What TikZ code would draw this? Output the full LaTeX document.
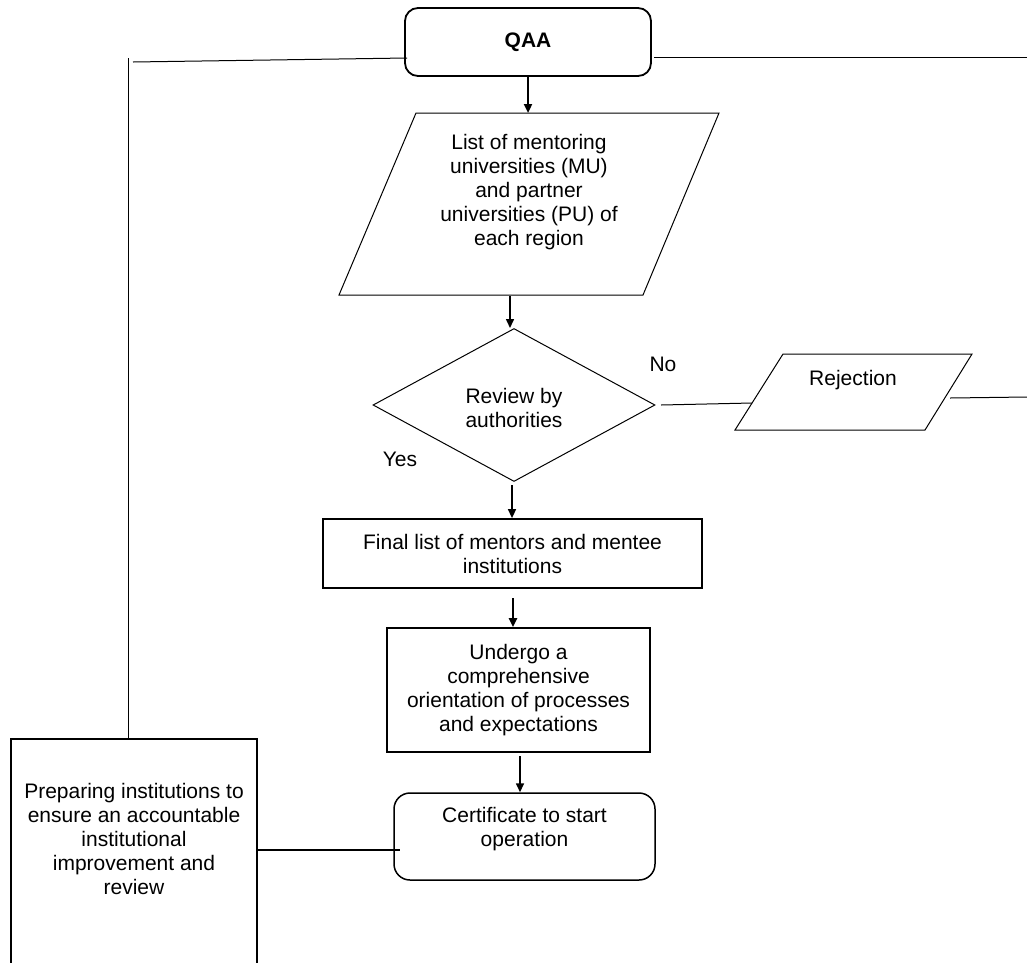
\documentclass[tikz,border=0pt]{standalone}
\usepackage{fontspec}
\setmainfont{Liberation Sans}
\usetikzlibrary{shapes.geometric,arrows.meta}
\begin{document}
\begin{tikzpicture}[x=1pt,y=-1pt,
  every node/.style={font=\fontsize{21}{24}\selectfont, align=center, inner sep=0pt},
  thinline/.style={line width=1pt},
  arr/.style={line width=2pt,-{Triangle[length=9pt,width=8pt]}},
  box/.style={draw, rectangle, line width=1.6pt},
  rbox/.style={draw, rectangle, rounded corners=13pt, line width=1.8pt}]
\useasboundingbox (0,0) rectangle (1027,962);
\clip (0,0) rectangle (1027,962);

% QAA
\node[rbox, minimum width=246pt, minimum height=68pt] (qaa) at (528,42) {\textbf{QAA}};

% list parallelogram
\draw[thinline] (416,113) -- (719,113) -- (643,295) -- (339,295) -- cycle;
\node (list) at (529,192) {List of mentoring\\universities (MU)\\and partner\\universities (PU) of\\each region};
\coordinate (listtop) at (528,113);
\coordinate (listbot) at (510,296);

% review diamond
\node[draw, diamond, aspect=1.84, minimum width=282pt, minimum height=153pt, thinline] (review) at (514,405) {};
\node (reviewtxt) at (514,408) {Review by\\authorities};
\node (no) at (663,364) {No};
\node (yes) at (400,459) {Yes};

% rejection parallelogram
\draw[thinline] (783,354) -- (972,354) -- (925,430) -- (735,430) -- cycle;
\node (rej) at (853,380) {Rejection};
\coordinate (rejL) at (752,403);
\coordinate (rejR) at (950,398);
\coordinate (rEnd2) at (1027,397);
\coordinate (revE) at (661,405);

% final list
\node[box, line width=1.8pt, minimum width=379pt, minimum height=69pt] (final) at (512.5,553.5) {Final list of mentors and mentee\\institutions};

% undergo
\node[box, minimum width=263pt, minimum height=124pt] (undergo) at (518.5,690) {Undergo a\\comprehensive\\orientation of processes\\and expectations};

% certificate
\node[rbox, rounded corners=16pt, line width=1.5pt, minimum width=261pt, minimum height=87pt] (cert) at (524.5,836.5) {};
\node (certtxt) at (524.5,829) {Certificate to start\\operation};

% preparing box
\node[box, line width=1.5pt, minimum width=246pt, minimum height=261pt] (prepbox) at (134,869.5) {};
\node (prep) at (134,839) {Preparing institutions to\\ensure an accountable\\institutional\\improvement and\\review};

% connectors
\coordinate (qL) at (407,58);
\coordinate (lc) at (133,62);
\coordinate (lt) at (128,58);
\coordinate (qR) at (654,57);
\coordinate (rEnd) at (1027,57);
\draw[thinline] (qL) -- (lc);
\draw[thinline] (lt) -- (lt |- prepbox.north);
\draw[thinline] (qR) -- (rEnd);

\draw[arr, line width=2.2pt] (qaa.south) -- (listtop);
\draw[arr, line width=1.5pt] (listbot) -- (listbot |- review.north);
\draw[thinline] (revE) -- (rejL);
\draw[thinline] (rejR) -- (rEnd2);

\coordinate (rs) at (512,485);
\draw[arr, line width=1.5pt] (rs) -- (rs |- final.north);
\coordinate (fs) at (513,598);
\draw[arr, line width=2.6pt] (fs) -- (fs |- undergo.north);
\coordinate (us) at (520,756);
\draw[arr, line width=1.6pt] (us) -- (us |- cert.north);

\coordinate (cl) at (400,850);
\draw[line width=2.6pt] (prepbox.east |- cl) -- (cl);
\end{tikzpicture}
\end{document}
